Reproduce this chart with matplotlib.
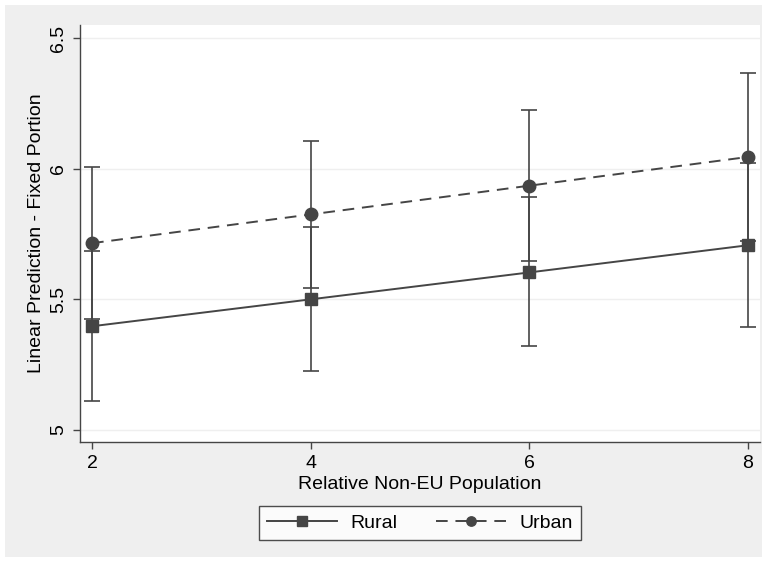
import matplotlib
matplotlib.use("Agg")
import matplotlib.pyplot as plt
from matplotlib.patches import Rectangle

plt.rcParams['font.family'] = ['Liberation Sans', 'DejaVu Sans']

# data
x_vals = [2, 4, 6, 8]
rural = [5.397, 5.500, 5.603, 5.707]
rural_lo = [5.110, 5.225, 5.320, 5.395]
rural_hi = [5.685, 5.775, 5.890, 6.020]
urban = [5.715, 5.825, 5.935, 6.045]
urban_lo = [5.425, 5.545, 5.645, 5.725]
urban_hi = [6.005, 6.105, 6.225, 6.365]
y_ticks = [5, 5.5, 6, 6.5]
y_labels = ['5', '5.5', '6', '6.5']

W, H = 767, 562
fig = plt.figure(figsize=(W / 100, H / 100), dpi=100)
fig.patch.set_facecolor('white')
fig.patches.append(Rectangle((5 / W, 5 / H), 757 / W, 552 / H,
                             transform=fig.transFigure, facecolor='#efefef',
                             edgecolor='none', zorder=-10))

ax = fig.add_axes([80 / W, (H - 442) / H, 680 / W, 417 / H])
ax.set_facecolor('white')
lc = '#454545'

ax.errorbar(x_vals, rural,
            yerr=[[r - l for r, l in zip(rural, rural_lo)],
                  [h - r for r, h in zip(rural, rural_hi)]],
            fmt='none', ecolor=lc, elinewidth=1.2, capsize=6, capthick=1.2, zorder=3)
ax.errorbar(x_vals, urban,
            yerr=[[u - l for u, l in zip(urban, urban_lo)],
                  [h - u for u, h in zip(urban, urban_hi)]],
            fmt='none', ecolor=lc, elinewidth=1.2, capsize=6, capthick=1.2, zorder=3)
ax.plot(x_vals, rural, color=lc, lw=1.4, marker='s', ms=9, label='Rural', zorder=4)
ax.plot(x_vals, urban, color=lc, lw=1.4, ls=(0, (6, 4)), marker='o', ms=9,
        label='Urban', zorder=4)

ax.set_xlim(1.89, 8.11)
ax.set_ylim(4.954, 6.55)
ax.set_xticks(x_vals)
ax.set_yticks(y_ticks)
ax.set_yticklabels(y_labels, rotation=90, va='center')
ax.tick_params(axis='both', length=5, width=1, color=lc, labelsize=14, pad=4)
ax.grid(axis='y', color='#efefef', lw=1)
ax.set_axisbelow(True)
for s in ['top', 'right']:
    ax.spines[s].set_visible(False)
for s in ['left', 'bottom']:
    ax.spines[s].set_color(lc)
    ax.spines[s].set_linewidth(1)

ax.set_xlabel('Relative Non-EU Population', fontsize=14, labelpad=3)
ax.set_ylabel('Linear Prediction - Fixed Portion', fontsize=14, labelpad=4)

leg = fig.legend(loc='center', bbox_to_anchor=(420 / W, (H - 523) / H), ncol=2,
                 fontsize=14, frameon=True, fancybox=False, edgecolor='#222222',
                 handlelength=3.6, handletextpad=0.7, columnspacing=2.0,
                 borderpad=0.4, markerscale=0.75)
leg.get_frame().set_linewidth(1)

fig.savefig('out.png', dpi=100, facecolor=fig.get_facecolor())
